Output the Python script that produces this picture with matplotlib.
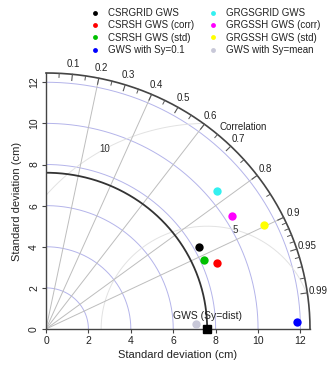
import numpy as np
import matplotlib
matplotlib.use("Agg")
import matplotlib.pyplot as plt
from matplotlib.lines import Line2D

plt.rcParams['font.family'] = ['Liberation Sans', 'DejaVu Sans']

# ---- data ----
names = ["CSRGRID GWS", "CSRSH GWS (corr)", "CSRSH GWS (std)", "GWS with Sy=0.1",
         "GRGSGRID GWS", "GRGSSH GWS (corr)", "GRGSSH GWS (std)", "GWS with Sy=mean"]
colors = ["#000000", "#ff0000", "#00c000", "#0000ff",
          "#33f0f0", "#ff00ff", "#ffff00", "#c8c8d8"]
std_x = [7.20, 8.05, 7.43, 11.82, 8.05, 8.79, 10.28, 7.09]
std_y = [4.01, 3.23, 3.37, 0.34, 6.70, 5.48, 5.07, 0.24]
ref_std = 7.6
ref_label = "GWS (Sy=dist)"
rmax = 12.45
std_grid = [2, 4, 6, 8, 10, 12]
corr_lines = [0.2, 0.4, 0.6, 0.8, 0.9]
corr_major = [0.1, 0.2, 0.3, 0.4, 0.5, 0.6, 0.7, 0.8, 0.9, 0.95, 0.99]
corr_minor = list(np.round(np.arange(0.05, 0.90, 0.05), 2)) + list(np.round(np.arange(0.91, 1.0, 0.01), 2))
rms_circles = [5, 10]
rms_label_angles = [74.9, 118.8]
xticks = [0, 2, 4, 6, 8, 10, 12]
yticks = [0, 2, 4, 6, 8, 10, 12]

fig = plt.figure(figsize=(3.34, 3.70), dpi=100)
ax = fig.add_axes([46/334, 41/370, 264/334, 256/370])
ax.set_xlim(0, rmax)
ax.set_ylim(0, rmax)
for s in ['top', 'right']:
    ax.spines[s].set_visible(False)
for s in ['left', 'bottom']:
    ax.spines[s].set_color('#444444')
    ax.spines[s].set_linewidth(1.0)

th = np.linspace(0, np.pi/2, 300)
# std circles
for r in std_grid:
    ax.plot(r*np.cos(th), r*np.sin(th), color='#b4b4ea', lw=0.7, zorder=1)
# RMS circles around reference
tt = np.linspace(0, np.pi, 400)
for r in rms_circles:
    xs = ref_std + r*np.cos(tt)
    ys = r*np.sin(tt)
    m = (np.hypot(xs, ys) <= rmax) & (xs >= 0)
    xs = np.where(m, xs, np.nan)
    ax.plot(xs, ys, color='#e2e2e2', lw=0.7, zorder=1)
for r, a in zip(rms_circles, rms_label_angles):
    ax.text(ref_std + r*np.cos(np.radians(a)), r*np.sin(np.radians(a)), str(r),
            fontsize=7, ha='center', va='center', color='#333333', zorder=3)
# correlation radial lines
for c in corr_lines:
    ang = np.arccos(c)
    ax.plot([0, rmax*np.cos(ang)], [0, rmax*np.sin(ang)], color='#bdbdbd', lw=0.7, zorder=1)
# reference arc
ax.plot(ref_std*np.cos(th), ref_std*np.sin(th), color='#333333', lw=1.3, zorder=2)
# outer arc
ax.plot(rmax*np.cos(th), rmax*np.sin(th), color='#444444', lw=1.2, zorder=2, clip_on=False)
# correlation ticks
for c in corr_major:
    ang = np.arccos(c)
    ax.plot([rmax*np.cos(ang), (rmax-0.3)*np.cos(ang)], [rmax*np.sin(ang), (rmax-0.3)*np.sin(ang)],
            color='#555555', lw=0.8, zorder=2)
    ax.text(12.95*np.cos(ang), 12.95*np.sin(ang), f"{c:g}", fontsize=7, ha='center', va='center',
            color='#222222', clip_on=False)
for c in corr_minor:
    if c in corr_major:
        continue
    ang = np.arccos(c)
    ax.plot([rmax*np.cos(ang), (rmax-0.2)*np.cos(ang)], [rmax*np.sin(ang), (rmax-0.2)*np.sin(ang)],
            color='#555555', lw=0.7, zorder=2)
ax.text(9.3, 9.8, "Correlation", fontsize=7, ha='center', va='center', color='#222222')

# points
for xv, yv, col in zip(std_x, std_y, colors):
    ax.plot(xv, yv, 'o', color=col, ms=6, mec='none', zorder=5, clip_on=False)
ax.plot(ref_std, 0, 's', color='black', ms=6, zorder=6, clip_on=False)
ax.text(ref_std, 0.65, ref_label, fontsize=7.5, ha='center', va='center', color='#222222')

ax.set_xticks(xticks)
ax.set_yticks(yticks)
ax.tick_params(axis='both', labelsize=7.5, length=3, width=0.8, color='#444444',
               labelcolor='#222222', pad=2)
ax.tick_params(axis='y', labelrotation=90)
for lab in ax.get_yticklabels():
    lab.set_va('center')
ax.set_xlabel("Standard deviation (cm)", fontsize=8, labelpad=3, color='#222222')
ax.set_ylabel("Standard deviation (cm)", fontsize=8, labelpad=5, color='#222222')

handles = [Line2D([], [], marker='o', ls='none', color=c, ms=3.5, mec='none') for c in colors]
leg = fig.legend(handles, names, ncol=2, loc='upper left', bbox_to_anchor=(91/334, 1 - 8/370),
                 frameon=False, fontsize=7, handlelength=0.8, handletextpad=0.9,
                 columnspacing=1.6, labelspacing=0.25, borderpad=0, borderaxespad=0)
for t in leg.get_texts():
    t.set_color('#222222')

fig.savefig("out.png", dpi=100)
